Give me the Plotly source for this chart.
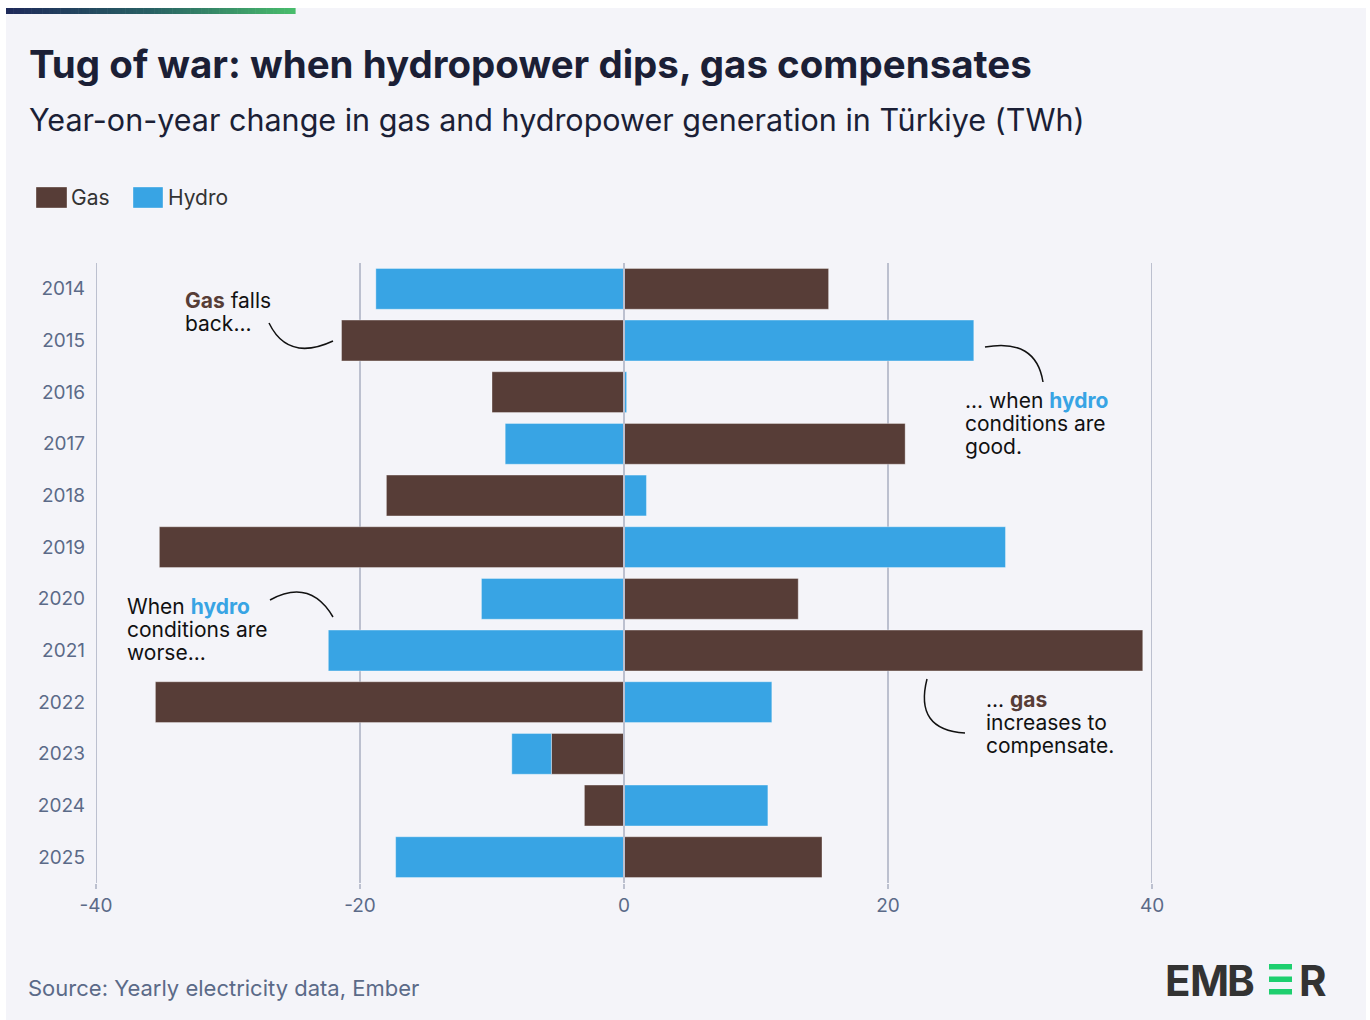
import plotly.graph_objects as go

# Year-on-year change in generation (TWh)
years = [2014, 2015, 2016, 2017, 2018, 2019, 2020, 2021, 2022, 2023, 2024, 2025]
gas = [15.5, -21.4, -10.0, 21.3, -18.0, -35.2, 13.2, 39.3, -35.5, -5.5, -3.0, 15.0]
hydro = [-18.8, 26.5, 0.2, -9.0, 1.7, 28.9, -10.8, -22.4, 11.2, -3.0, 10.9, -17.3]

x_tickvals = [-40, -20, 0, 20, 40]
x_ticktext = ["-40", "-20", "0", "20", "40"]

GAS_COLOR = "#573d37"
HYDRO_COLOR = "#38a4e4"
BG = "#f4f4f9"
GRID = "#bcc0cf"
TICK_TEXT = "#5b6a88"
INK = "#1b1f36"
FONT = "Inter, 'Open Sans', sans-serif"

W, H = 1370, 1020
ML, MR, MT, MB = 96, 218, 263, 137
PW, PH = W - ML - MR, H - MT - MB


def px(x):
    """Horizontal pixel position -> paper coordinate."""
    return (x - ML) / PW


def py(y):
    """Vertical pixel position (from top) -> paper coordinate."""
    return (H - MB - y) / PH


fig = go.Figure()
fig.add_trace(go.Bar(
    name="Gas", y=years, x=gas, orientation="h",
    marker=dict(color=GAS_COLOR, line=dict(color="rgba(255,255,255,0.35)", width=1)),
))
fig.add_trace(go.Bar(
    name="Hydro", y=years, x=hydro, orientation="h",
    marker=dict(color=HYDRO_COLOR, line=dict(color="rgba(255,255,255,0.35)", width=1)),
))

shapes = []
# page frame: white border around the card
shapes += [
    dict(type="rect", xref="paper", yref="paper", x0=px(0), x1=px(6), y0=py(H), y1=py(0),
         fillcolor="white", line_width=0, layer="below"),
    dict(type="rect", xref="paper", yref="paper", x0=px(0), x1=px(W), y0=py(8), y1=py(0),
         fillcolor="white", line_width=0, layer="below"),
    dict(type="rect", xref="paper", yref="paper", x0=px(1366), x1=px(W), y0=py(H), y1=py(0),
         fillcolor="white", line_width=0, layer="below"),
]

# gradient accent strip at the top of the card
stops = [(0.0, (30, 42, 90)), (0.5, (40, 96, 100)), (1.0, (72, 188, 108))]


def grad(t):
    for (t0, c0), (t1, c1) in zip(stops[:-1], stops[1:]):
        if t <= t1:
            f = (t - t0) / (t1 - t0)
            return "rgb(%d,%d,%d)" % tuple(round(a + (b - a) * f) for a, b in zip(c0, c1))
    return "rgb(%d,%d,%d)" % stops[-1][1]


n_seg = 80
x_start, x_end = 6, 295
for i in range(n_seg):
    a = x_start + (x_end - x_start) * i / n_seg
    b = x_start + (x_end - x_start) * (i + 1) / n_seg + 0.6
    shapes.append(dict(type="rect", xref="paper", yref="paper", x0=px(a), x1=px(b),
                       y0=py(14), y1=py(8), fillcolor=grad(i / (n_seg - 1)),
                       line_width=0, layer="below"))

# grid lines at the range edges, and the zero line drawn over the bars
for edge in (x_tickvals[0], x_tickvals[-1]):
    shapes.append(dict(type="line", xref="x", yref="paper", x0=edge, x1=edge, y0=0, y1=1,
                       line=dict(color=GRID, width=2), layer="below"))
shapes.append(dict(type="line", xref="x", yref="paper", x0=0, x1=0, y0=0, y1=1,
                   line=dict(color=GRID, width=2), layer="above"))

# legend swatches
shapes += [
    dict(type="rect", xref="paper", yref="paper", x0=px(36), x1=px(67), y0=py(208), y1=py(187),
         fillcolor=GAS_COLOR, line=dict(color="rgba(255,255,255,0.35)", width=1)),
    dict(type="rect", xref="paper", yref="paper", x0=px(133), x1=px(163), y0=py(208), y1=py(187),
         fillcolor=HYDRO_COLOR, line=dict(color="rgba(255,255,255,0.35)", width=1)),
]


# callout connector curves
def curve(p0, c, p1):
    return dict(type="path", xref="paper", yref="paper",
                path="M %f %f Q %f %f %f %f" % (px(p0[0]), py(p0[1]), px(c[0]), py(c[1]),
                                                px(p1[0]), py(p1[1])),
                line=dict(color="#111111", width=1.5))


shapes += [
    curve((269, 323), (288, 362), (333, 341)),
    curve((985, 347), (1036, 338), (1043, 382)),
    curve((270, 600), (310, 578), (333, 617)),
    curve((927, 679), (914, 730), (965, 733)),
]

# EMBER wordmark middle bars
for y0, y1 in [(964, 969.5), (976.5, 982), (989, 994.5)]:
    shapes.append(dict(type="rect", xref="paper", yref="paper", x0=px(1269), x1=px(1292),
                       y0=py(y1), y1=py(y0), fillcolor="#1ecf6f", line_width=0))

annotations = []


def text(x, y, s, size, color=INK, anchor="left", yanchor="middle", family=FONT):
    annotations.append(dict(xref="paper", yref="paper", x=px(x), y=py(y), text=s,
                            showarrow=False, xanchor=anchor, yanchor=yanchor, align="left",
                            font=dict(family=family, size=size, color=color)))


def callout(x, y_first, lines, size=21, step=23):
    for k, line in enumerate(lines):
        text(x, y_first + k * step, line, size, color="#111111")


text(27, 64, "<b>Tug of war: when hydropower dips, gas compensates</b>", 38.5)
text(27, 120, "Year-on-year change in gas and hydropower generation in Türkiye (TWh)", 30.5)
text(69, 197, "Gas", 21, color="#333333")
text(166, 197, "Hydro", 21, color="#333333")
text(26, 988, "Source: Yearly electricity data, Ember", 22, color=TICK_TEXT)

bold_gas = "<b><span style='color:%s'>%s</span></b>"
callout(183, 300, [bold_gas % (GAS_COLOR, "Gas") + " falls", "back..."])
callout(963, 400, ["... when " + bold_gas % (HYDRO_COLOR, "hydro"), "conditions are", "good."])
callout(125, 606, ["When " + bold_gas % (HYDRO_COLOR, "hydro"), "conditions are", "worse..."])
callout(984, 699, ["... " + bold_gas % (GAS_COLOR, "gas"), "increases to", "compensate."])

for ch, cx in [("E", 1178), ("M", 1209), ("B", 1241), ("R", 1313)]:
    text(cx, 981, "<b>%s</b>" % ch, 42, color="#333333", anchor="center")

fig.update_layout(
    width=W, height=H,
    margin=dict(l=ML, r=MR, t=MT, b=MB, pad=0),
    paper_bgcolor=BG, plot_bgcolor=BG,
    barmode="relative", bargap=0.21,
    showlegend=False,
    font=dict(family=FONT, color=TICK_TEXT),
    shapes=shapes, annotations=annotations,
    xaxis=dict(range=[-40, 40], tickvals=x_tickvals, ticktext=x_ticktext,
               showgrid=True, gridcolor=GRID, gridwidth=2, zeroline=False,
               ticks="outside", ticklen=5, tickwidth=2, tickcolor=GRID,
               tickfont=dict(size=19, color=TICK_TEXT), showline=False, fixedrange=True),
    yaxis=dict(range=[2025.5, 2013.5], tickvals=years, ticktext=[str(y) for y in years],
               showgrid=False, zeroline=False, showline=False, ticks="",
               ticklabelstandoff=10, tickfont=dict(size=19, color=TICK_TEXT), fixedrange=True),
)

fig.write_html("out.html")
